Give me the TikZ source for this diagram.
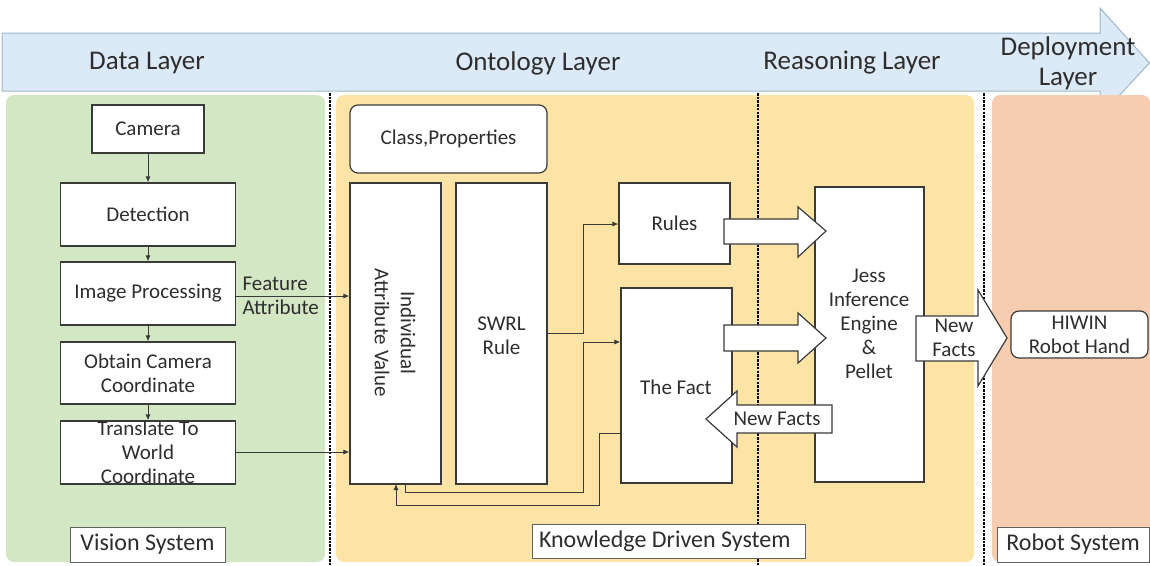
\documentclass[tikz,border=0pt]{standalone}
\usepackage{fontspec}
\setmainfont{Carlito}
\usetikzlibrary{arrows.meta}
\definecolor{bandfill}{HTML}{DCE9F6}
\definecolor{bandline}{HTML}{9FB7D0}
\definecolor{greenbg}{HTML}{D4E7C4}
\definecolor{yellowbg}{HTML}{FBE4A6}
\definecolor{orangebg}{HTML}{F6CDB0}
\definecolor{edge}{HTML}{3A3A3A}
\definecolor{ink}{HTML}{2E2E2E}
\tikzset{
  every node/.style={text=ink},
  panel/.style={rounded corners=8pt, draw=none},
  boxfont/.style={font=\fontsize{21}{24}\selectfont},
  stepbox/.style={draw=edge, line width=1.2pt, fill=white, inner sep=0pt, align=center, boxfont},
  roundbox/.style={stepbox, rounded corners=8pt},
  tagbox/.style={draw=edge!80, line width=0.8pt, fill=white, inner sep=0pt, align=center, font=\fontsize{24}{27}\selectfont},
  layertext/.style={font=\fontsize{27}{30}\selectfont, align=center},
  link/.style={draw=edge, line width=0.8pt, -{Latex[length=6pt,width=5pt]}},
  plain/.style={draw=edge, line width=0.8pt},
  blockarrow/.style={draw=edge, line width=1.2pt, fill=white},
  divider/.style={draw=black, line width=1.4pt, dash pattern=on 2.5pt off 1.2pt},
}
\begin{document}
\begin{tikzpicture}[x=1pt, y=-1pt]
\useasboundingbox (0,0) rectangle (1150,565);

% layer band across the top
\draw[fill=bandfill, draw=bandline, line width=1pt, line join=miter]
  (2,33) -- (1100,33) -- (1100,8) -- (1149.5,63) -- (1100,116) -- (1100,91) -- (2,91) -- cycle;
\node[layertext] (ldata) at (147,63) {Data Layer};
\node[layertext] (lonto) at (538,63) {Ontology Layer};
\node[layertext] (lreas) at (852,63) {Reasoning Layer};
\node[layertext] (ldep) at (1068,63) {Deployment\\Layer};

% system panels
\fill[panel, greenbg] (6,95) rectangle (325,562);
\fill[panel, yellowbg] (336,95) rectangle (974,562);
\fill[panel, orangebg] (992,95) rectangle (1150,562);
\draw[divider] (330,93) -- (330,565);
\draw[divider] (758,93) -- (758,565);
\draw[divider] (984,93) -- (984,565);

% vision system
\node[stepbox, minimum width=112pt, minimum height=48pt] (cam) at (148,129) {Camera};
\node[stepbox, minimum width=175pt, minimum height=63pt] (det) at (148,214.5) {Detection};
\node[stepbox, minimum width=175pt, minimum height=63pt] (img) at (148,293.5) {Image Processing};
\node[stepbox, minimum width=175pt, minimum height=62pt] (obt) at (148,373) {Obtain Camera\\Coordinate};
\node[stepbox, minimum width=175pt, minimum height=63pt] (tra) at (148,452.5) {Translate To\\World\\Coordinate};
\node[tagbox, minimum width=155pt, minimum height=35pt] (vis) at (147.5,544.5) {Vision System};

\draw[link] (cam) -- (det);
\draw[link] (det) -- (img);
\draw[link] (img) -- (obt);
\draw[link] (obt) -- (tra);

% ontology layer
\node[roundbox, minimum width=197pt, minimum height=68pt] (cls) at (448.5,139) {Class,Properties};
\node[stepbox, minimum width=91pt, minimum height=301pt] (ind) at (395.5,333.5) {};
\node[rotate=-90, align=center, boxfont, font=\fontsize{21}{26}\selectfont] (indtext) at (395,333) {Individual\\Attribute Value};
\node[stepbox, minimum width=91pt, minimum height=301pt] (swrl) at (501.5,333.5) {};
\node[align=center, boxfont] (swrltext) at (501.5,336) {SWRL\\Rule};
\node[stepbox, minimum width=111pt, minimum height=81pt] (rules) at (674.5,223.5) {Rules};
\node[stepbox, minimum width=111pt, minimum height=195pt] (fact) at (676.5,385.5) {};
\node[boxfont] (facttext) at (676,387) {The Fact};

\coordinate (fa) at (322,296);
\draw[plain] (img.east |- fa) -- (fa);
\draw[link] (fa) -- (ind.west |- fa);
\node[boxfont, align=left, anchor=west] (feat) at (239,296) {Feature\\Attribute};
\draw[link] (tra.east |- 0,452) -- (ind.west |- 0,452);

% wiring between ontology boxes
\draw[link] (swrl.east |- 0,333) -| (583,224) -- (rules.west |- 0,224);
\draw[link] (405,484) |- (583,492) |- (fact.west |- 0,342);
\draw[link] (fact.west |- 0,433) -| (599,505) -| (396,484);

% reasoning layer
\node[stepbox, minimum width=109pt, minimum height=295pt] (jess) at (869.5,334.5) {};
\node[align=center, boxfont] (jesstext) at (869,324) {Jess\\Inference\\Engine\\\&\\Pellet};

% block arrows
\draw[blockarrow] (724,219) -- (798,219) -- (798,207) -- (826,231) -- (798,257) -- (798,244) -- (724,244) -- cycle;
\draw[blockarrow] (724,325) -- (798,325) -- (798,313) -- (826,338) -- (798,363) -- (798,351) -- (724,351) -- cycle;
\draw[blockarrow] (832,405) -- (737,405) -- (737,391) -- (706,419) -- (737,447) -- (737,433) -- (832,433) -- cycle;
\node[boxfont] (nf1) at (777,419) {New Facts};
\draw[blockarrow] (916,316) -- (978,316) -- (978,290) -- (1007,338) -- (978,386) -- (978,361) -- (916,361) -- cycle;
\node[align=center, boxfont] (nf2) at (954,338) {New\\Facts};

\node[tagbox, minimum width=273pt, minimum height=34pt, text width=259pt, align=flush left] (kds) at (668.5,541) {Knowledge Driven System};

% deployment layer
\node[roundbox, minimum width=137pt, minimum height=47pt] (hiwin) at (1079.5,334.5) {HIWIN\\Robot Hand};
\node[tagbox, minimum width=152pt, minimum height=35pt] (rob) at (1073,544.5) {Robot System};
\end{tikzpicture}
\end{document}
